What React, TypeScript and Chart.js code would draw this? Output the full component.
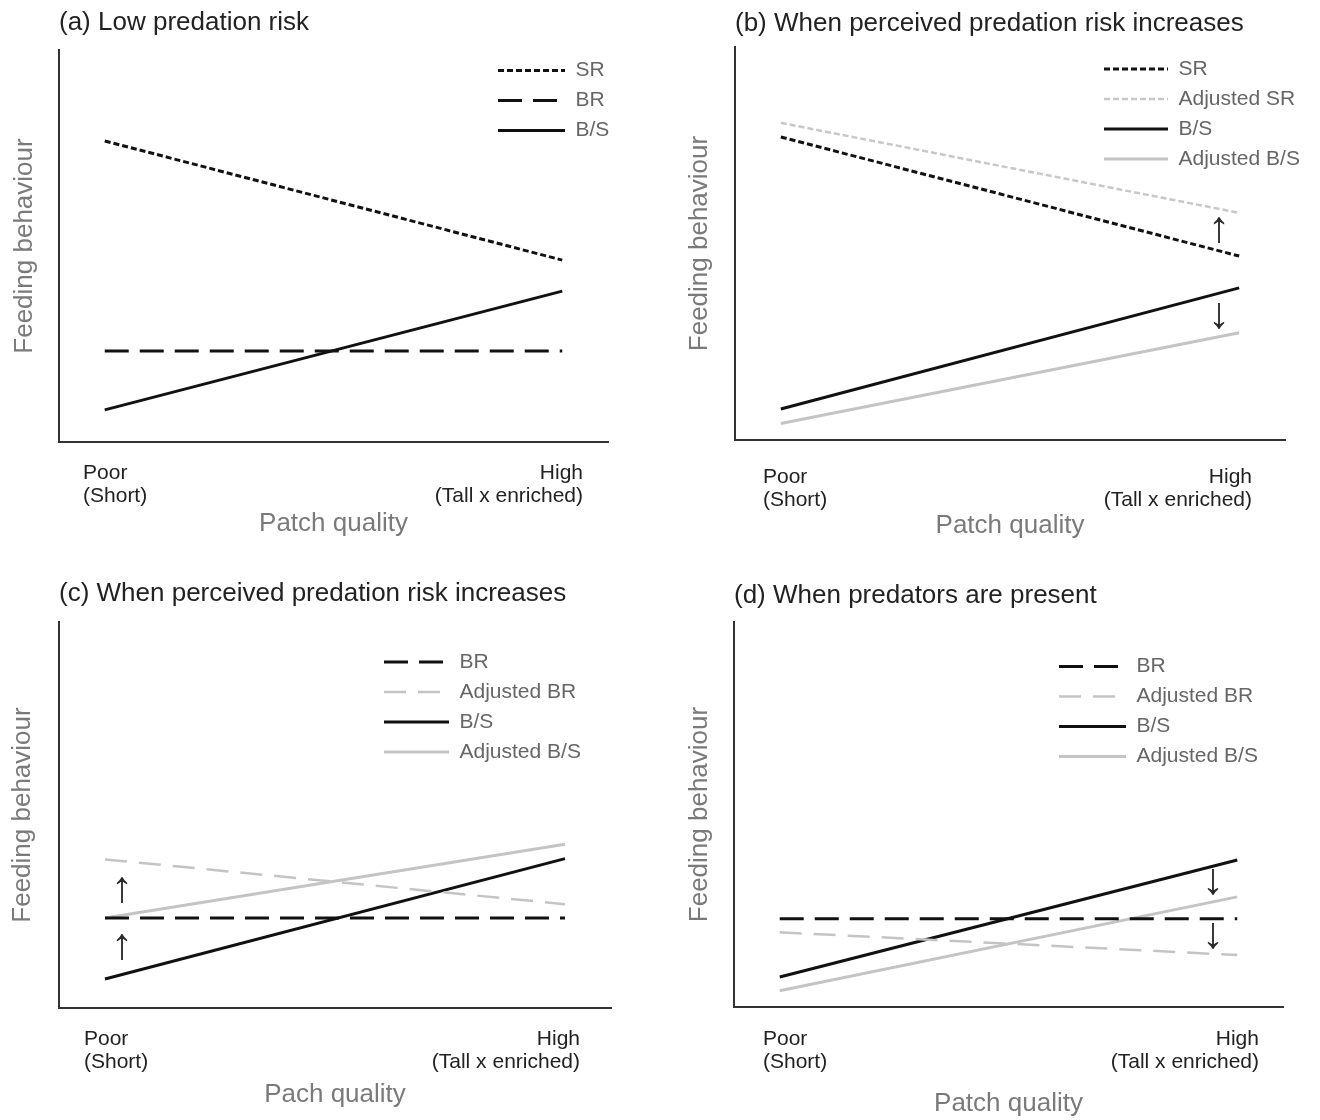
import React, { useEffect, useRef } from "react";
import { Chart, registerables } from "chart.js";

Chart.register(...registerables);
Chart.defaults.font.family = '"Liberation Sans", Arial, sans-serif';

// ---- data ----
const patchX = [0, 1];
const xTickLabels = [["Poor", "(Short)"], ["High", "(Tall x enriched)"]];
const yAxisTitle = "Feeding behaviour";

const titleA = "(a) Low predation risk";
const titleB = "(b) When perceived predation risk increases";
const titleC = "(c) When perceived predation risk increases";
const titleD = "(d) When predators are present";

const xTitleA = "Patch quality";
const xTitleB = "Patch quality";
const xTitleC = "Pach quality";
const xTitleD = "Patch quality";

// panel (a)
const srA = [7.68, 4.64];
const brA = [2.32, 2.32];
const bsA = [0.82, 3.85];

// panel (b)
const srB = [7.71, 4.68];
const adjSrB = [8.07, 5.78];
const bsB = [0.79, 3.87];
const adjBsB = [0.42, 2.73];

// panel (c)
const brC = [2.33, 2.33];
const adjBrC = [3.85, 2.69];
const bsC = [0.75, 3.87];
const adjBsC = [2.33, 4.24];

// panel (d)
const brD = [2.29, 2.29];
const adjBrD = [1.94, 1.35];
const bsD = [0.78, 3.82];
const adjBsD = [0.42, 2.86];

// arrow annotations (data coordinates)
const arrowsB = [
  { x: 0.956, y: 5.34, glyph: "↑" },
  { x: 0.956, y: 3.16, glyph: "↓" },
];
const arrowsC = [
  { x: 0.037, y: 3.06, glyph: "↑" },
  { x: 0.037, y: 1.58, glyph: "↑" },
];
const arrowsD = [
  { x: 0.947, y: 3.25, glyph: "↓" },
  { x: 0.947, y: 1.84, glyph: "↓" },
];

// ---- styles ----
const BLACK = "#111111";
const GREY = "#c4c4c4";
const STYLE: Record<string, { color: string; dash: number[]; width: number }> = {
  SR: { color: BLACK, dash: [6, 3], width: 3 },
  "Adjusted SR": { color: "#c8c8c8", dash: [6, 3], width: 2.5 },
  BR: { color: BLACK, dash: [24, 11], width: 3 },
  "Adjusted BR": { color: GREY, dash: [22, 12], width: 2.5 },
  "B/S": { color: BLACK, dash: [], width: 3 },
  "Adjusted B/S": { color: GREY, dash: [], width: 3 },
};

type Lay = {
  chartLeft: number; chartRight: number; titlePadTop: number; titlePadBottom: number;
  xHeight: number; yTitlePad: number; xTitlePad: number; tickPad: number;
  tickLo: number; tickHi: number; legendLeft: number; legendTop: number; legendBox: number;
};

const panels: Array<{
  key: string; ox: number; oy: number; title: string; xTitle: string;
  series: Array<[string, number[]]>; arrows: Array<{ x: number; y: number; glyph: string }>; lay: Lay;
}> = [
  {
    key: "a", ox: 0, oy: 0, title: titleA, xTitle: xTitleA,
    series: [["SR", srA], ["BR", brA], ["B/S", bsA]], arrows: [],
    lay: { chartLeft: 59, chartRight: 608, titlePadTop: 7.4, titlePadBottom: 11.4, xHeight: 118, yTitlePad: 9.4, xTitlePad: 20.4, tickPad: 20, tickLo: -0.0475, tickHi: 1.0454, legendLeft: 489, legendTop: 51, legendBox: 67 },
  },
  {
    key: "b", ox: 660, oy: 0, title: titleB, xTitle: xTitleB,
    series: [["SR", srB], ["Adjusted SR", adjSrB], ["B/S", bsB], ["Adjusted B/S", adjBsB]], arrows: arrowsB,
    lay: { chartLeft: 75, chartRight: 625, titlePadTop: 8.4, titlePadBottom: 7.4, xHeight: 120, yTitlePad: 24.4, xTitlePad: 18.4, tickPad: 26, tickLo: -0.039, tickHi: 1.028, legendLeft: 435, legendTop: 49.5, legendBox: 64 },
  },
  {
    key: "c", ox: 0, oy: 560, title: titleC, xTitle: xTitleC,
    series: [["BR", brC], ["Adjusted BR", adjBrC], ["B/S", bsC], ["Adjusted B/S", adjBsC]], arrows: arrowsC,
    lay: { chartLeft: 59, chartRight: 611, titlePadTop: 18.4, titlePadBottom: 12.4, xHeight: 112, yTitlePad: 7.4, xTitlePad: 9.4, tickPad: 20, tickLo: -0.0457, tickHi: 1.0326, legendLeft: 375, legendTop: 82.6, legendBox: 65 },
  },
  {
    key: "d", ox: 660, oy: 560, title: titleD, xTitle: xTitleD,
    series: [["BR", brD], ["Adjusted BR", adjBrD], ["B/S", bsD], ["Adjusted B/S", adjBsD]], arrows: arrowsD,
    lay: { chartLeft: 74, chartRight: 623, titlePadTop: 20, titlePadBottom: 10.8, xHeight: 113, yTitlePad: 24.4, xTitlePad: 0.7, tickPad: 21, tickLo: -0.0366, tickHi: 1.0475, legendLeft: 390, legendTop: 87, legendBox: 67 },
  },
];

const W = 660;
const H = 560;

function makeLegendPlacer(left: number, top: number) {
  return {
    id: "legendPlacer",
    afterLayout(chart: any) {
      const lg = chart.legend;
      if (!lg) return;
      lg.left = left;
      lg.right = left + lg.width;
      lg.top = top;
      lg.bottom = top + 400;
      lg.height = 400;
    },
  };
}

function makeArrowPlugin(arrows: Array<{ x: number; y: number; glyph: string }>) {
  return {
    id: "arrowNotes",
    afterDatasetsDraw(chart: any) {
      const { ctx, scales } = chart;
      ctx.save();
      ctx.font = '44px "Liberation Sans", "DejaVu Sans", sans-serif';
      ctx.fillStyle = "#2a2a2a";
      ctx.textAlign = "center";
      ctx.textBaseline = "middle";
      arrows.forEach((a) => {
        ctx.fillText(a.glyph, scales.x.getPixelForValue(a.x), scales.y.getPixelForValue(a.y));
      });
      ctx.restore();
    },
  };
}

function legendLabels(chart: any) {
  return chart.data.datasets.map((ds: any, i: number) => ({
    text: ds.label,
    fillStyle: "rgba(0,0,0,0)",
    strokeStyle: ds.borderColor,
    lineWidth: ds.borderWidth,
    lineDash: ds.borderDash,
    lineCap: "butt",
    pointStyle: "line",
    rotation: 0,
    hidden: false,
    datasetIndex: i,
    fontColor: "#666666",
  }));
}

function Panel({ cfg }: { cfg: (typeof panels)[number] }) {
  const ref = useRef<HTMLCanvasElement | null>(null);
  useEffect(() => {
    if (!ref.current) return;
    const L = cfg.lay;
    const chart = new Chart(ref.current, {
      type: "line",
      data: {
        datasets: cfg.series.map(([label, vals]) => ({
          label,
          data: patchX.map((x, i) => ({ x, y: vals[i] })),
          borderColor: STYLE[label].color,
          backgroundColor: "rgba(0,0,0,0)",
          borderDash: STYLE[label].dash,
          borderWidth: STYLE[label].width,
          borderCapStyle: "butt",
          pointRadius: 0,
          tension: 0,
          fill: false,
        })),
      },
      options: {
        responsive: false,
        animation: false,
        devicePixelRatio: 1,
        events: [],
        layout: { padding: { left: 0, top: 0, right: W - L.chartRight, bottom: 0 } },
        scales: {
          x: {
            type: "linear",
            min: -0.1,
            max: 1.1,
            grid: { display: false, drawTicks: false },
            border: { display: true, color: "#333", width: 2 },
            afterBuildTicks: (s: any) => {
              s.ticks = [{ value: L.tickLo }, { value: L.tickHi }];
            },
            ticks: {
              align: "inner",
              padding: L.tickPad,
              color: "#222",
              autoSkip: false,
              maxRotation: 0,
              font: { size: 21, lineHeight: 1.1 },
              callback: (_v: any, i: number) => xTickLabels[i],
            },
            title: {
              display: true,
              text: cfg.xTitle,
              color: "#7a7a7a",
              font: { size: 26, lineHeight: 1.2 },
              padding: { top: 0, bottom: L.xTitlePad },
            },
            afterFit: (s: any) => {
              s.height = L.xHeight;
            },
          },
          y: {
            type: "linear",
            min: 0,
            max: 10,
            grid: { display: false, drawTicks: false },
            border: { display: true, color: "#333", width: 2 },
            ticks: { display: false },
            title: {
              display: true,
              text: yAxisTitle,
              color: "#7a7a7a",
              font: { size: 26, lineHeight: 1.2 },
              padding: { top: L.yTitlePad, bottom: 0 },
            },
            afterFit: (s: any) => {
              s.width = L.chartLeft;
            },
          },
        },
        plugins: {
          title: {
            display: true,
            text: cfg.title,
            align: "start",
            fullSize: false,
            color: "#222",
            font: { size: 26, weight: "normal", lineHeight: 1.2 },
            padding: { top: L.titlePadTop, bottom: L.titlePadBottom },
          },
          legend: {
            display: true,
            position: "chartArea",
            align: "start",
            labels: {
              usePointStyle: true,
              pointStyle: "line",
              pointStyleWidth: L.legendBox,
              color: "#666",
              font: { size: 21 },
              padding: 9,
              generateLabels: legendLabels,
            },
          },
          tooltip: { enabled: false },
        },
      } as any,
      plugins: [makeLegendPlacer(L.legendLeft, L.legendTop), makeArrowPlugin(cfg.arrows)],
    } as any);
    return () => chart.destroy();
  }, []);
  return (
    <div style={{ position: "absolute", left: cfg.ox, top: cfg.oy, width: W, height: H }}>
      <canvas ref={ref} width={W} height={H} style={{ display: "block", width: W, height: H }} />
    </div>
  );
}

export default function App() {
  return (
    <div style={{ position: "absolute", left: 0, top: 0, width: 1320, height: 1120, background: "#fff" }}>
      {panels.map((p) => (
        <Panel key={p.key} cfg={p} />
      ))}
    </div>
  );
}
